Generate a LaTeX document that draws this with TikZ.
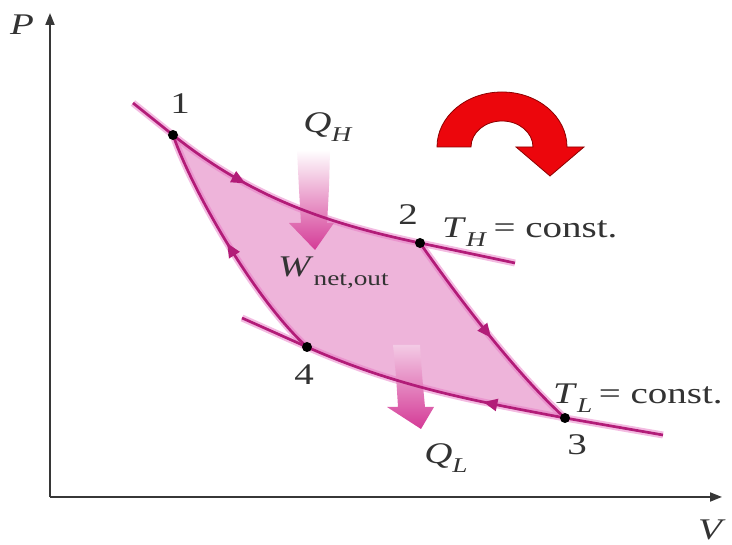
\documentclass[tikz,border=0pt]{standalone}
\usepackage{fontspec}
\setmainfont{Liberation Serif}
\usetikzlibrary{arrows.meta,decorations.markings}
\definecolor{mag}{RGB}{178,28,120}
\definecolor{pinkfill}{RGB}{238,180,218}
\definecolor{glow}{RGB}{232,120,196}
\definecolor{qcol}{RGB}{212,58,150}
\definecolor{redarr}{RGB}{236,6,12}
\definecolor{axisgray}{RGB}{55,55,55}
\newcommand\lbl[1]{\scalebox{1.3}[1]{#1}}
\newcommand\subs[1]{\raisebox{-0.28em}{\fontsize{21}{22}\selectfont\textit{#1}}}
\begin{document}
\begin{tikzpicture}[x=1pt,y=1pt,
 txt/.style={font=\fontsize{30}{32}\selectfont, inner sep=0pt, text=black!80},
 curve/.style={color=mag, line width=2.7pt},
 halo/.style={draw=glow, line width=7pt, opacity=0.5},
 dot/.style={circle, fill=black, inner sep=0pt, minimum size=10pt},
 midarrow/.style={postaction={decorate, decoration={markings, mark=at position #1 with {\arrow{Triangle[length=14pt,width=12pt]}}}}},
 axis/.style={draw=axisgray, line width=1.8pt, -{Triangle[length=12pt,width=9pt]}}
]
\useasboundingbox (0,0) rectangle (732,545);

% axes
\coordinate (O) at (50,48);
\coordinate (Ptop) at (50,532);
\coordinate (Vend) at (722,48);
\draw[axis] (O) -- (Ptop);
\draw[axis] (O) -- (Vend);

% state points
\coordinate (p1) at (173,410);
\coordinate (p2) at (420,302);
\coordinate (p3) at (565,127);
\coordinate (p4) at (307,198);
\coordinate (aH) at (133,442);
\coordinate (bH) at (515,282);
\coordinate (aL) at (242,227);
\coordinate (bL) at (663,110);

% fill
\fill[pinkfill] (p1) .. controls (253,346) and (330,321) .. (p2)
  .. controls (448,262) and (510,177) .. (p3)
  .. controls (475,144) and (397,158) .. (p4)
  .. controls (255,245) and (192,355) .. (p1) -- cycle;

% halos
\draw[halo] (aH) -- (p1) .. controls (253,346) and (330,321) .. (p2) .. controls (470,291.5) .. (bH);
\draw[halo] (aL) -- (p4) .. controls (397,158) and (475,144) .. (p3) .. controls (614,118.5) .. (bL);
\draw[halo] (p2) .. controls (448,262) and (510,177) .. (p3);
\draw[halo] (p4) .. controls (255,245) and (192,355) .. (p1);

% heat arrows
\shade[top color=white, bottom color=qcol] (297,395) .. controls (299,355) .. (301,322) -- (289,322) -- (315,295) -- (334,322) -- (327,322) .. controls (329,355) .. (330,395) -- cycle;
\shade[top color=pinkfill!70!white, bottom color=qcol] (393,200) .. controls (396,170) .. (398,138) -- (387,138) -- (421,116) -- (434,138) -- (425,138) .. controls (422,170) .. (420,200) -- cycle;

% curves
\draw[curve] (aH) -- (p1);
\draw[curve, midarrow=0.32] (p1) .. controls (253,346) and (330,321) .. (p2);
\draw[curve] (p2) .. controls (470,291.5) .. (bH);
\draw[curve, midarrow=0.52] (p2) .. controls (448,262) and (510,177) .. (p3);
\draw[curve, midarrow=0.31] (p3) .. controls (475,144) and (397,158) .. (p4);
\draw[curve] (p3) .. controls (614,118.5) .. (bL);
\draw[curve] (aL) -- (p4);
\draw[curve, midarrow=0.52] (p4) .. controls (255,245) and (192,355) .. (p1);

% dots
\node[dot] (n1) at (p1) {};
\node[dot] (n2) at (p2) {};
\node[dot] (n3) at (p3) {};
\node[dot] (n4) at (p4) {};

% red cycle arrow
\filldraw[fill=redarr, draw=red!55!black, line width=0.8pt] (437,398) arc[start angle=180, end angle=0, x radius=65, y radius=55] -- (584,398) -- (550,369) -- (516,398) -- (533,398) arc[start angle=0, end angle=180, x radius=31, y radius=26] -- cycle;

% labels
\node[txt] (lP) at (22,520) {\lbl{\textit{P}}};
\node[txt] (lV) at (712,15) {\lbl{\textit{V}}};
\node[txt] (l1) at (180,441) {\lbl{1}};
\node[txt] (l2) at (408,330) {\lbl{2}};
\node[txt] (l3) at (577,100) {\lbl{3}};
\node[txt] (l4) at (304,170) {\lbl{4}};
\node[txt] (lQH) at (328,418) {\lbl{\textit{Q}\subs{H}}};
\node[txt] (lQL) at (446,87) {\lbl{\textit{Q}\subs{L}}};
\node[txt, anchor=west] (lTH) at (442,313) {\lbl{\textit{T}\subs{H}\,= const.}};
\node[txt, anchor=west] (lTL) at (553,147) {\lbl{\textit{T}\subs{L}\,= const.}};
\node[txt, anchor=west] (lW) at (278,272) {\lbl{\textit{W}\raisebox{-0.28em}{\fontsize{21}{22}\selectfont net,out}}};
\end{tikzpicture}
\end{document}
